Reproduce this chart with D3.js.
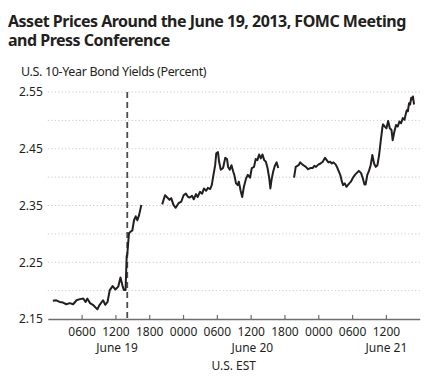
<!DOCTYPE html>
<html>
<head>
  <meta charset="utf-8">
  <title>Asset Prices Around the June 19, 2013, FOMC Meeting</title>
  <script src="https://d3js.org/d3.v7.min.js"></script>
  <style>
    body { margin: 0; background: #fff; }
    text { font-family: "Noto Sans", "Open Sans", sans-serif; fill: #231f20; }
    .title { font-weight: bold; font-size: 16px; letter-spacing: -0.5px; }
    .axis text { font-size: 12px; }
    .axis .domain { stroke: #6d6e71; stroke-width: 1.5; }
    .x.axis .tick line { stroke: #6d6e71; stroke-width: 1.2; }
    .grid line { stroke: #bcbec0; stroke-width: 1; stroke-dasharray: 1 2.5; }
  </style>
</head>
<body>
<script>

// hours since June 19, 2013 00:00 (U.S. EST); null = gap in trading
var hours = [
  0.9, 1.5, 2.1, 2.7, 3.3, 3.9, 4.5, 5.1, 5.7, 6.3, 6.7, 7.0, 7.5, 8.0, 8.8, 9.2, 9.8, 10.2, 10.6,
  11.0, 11.5, 12.0, 12.5, 12.9, 13.3, 13.5, 13.8, 14.0, 14.1, 14.4, 14.7, 15.0, 15.3, 15.6, 15.9, 16.2, 16.6,
  null,
  20.3, 20.8, 21.2, 21.6, 21.9, 22.3, 22.7, 23.2, 23.7, 24.1, 24.5, 24.9, 25.2, 25.6, 25.9, 26.3, 26.6,
  27.0, 27.4, 27.7, 28.1, 28.4, 28.8, 29.1, 29.4, 29.7, 29.9, 30.2, 30.4, 30.7, 31.1, 31.5, 31.8, 32.0,
  32.3, 32.6, 32.9, 33.1, 33.4, 33.7, 33.9, 34.2, 34.5, 34.8, 35.2, 35.5, 35.9, 36.2, 36.6, 36.9, 37.2,
  37.5, 37.8, 38.1, 38.4, 38.7, 39.0, 39.3, 39.5, 39.7, 40.0, 40.3, 40.6, 40.9,
  null,
  43.7, 44.0, 44.5, 44.8, 45.2, 45.5, 45.8, 46.2, 46.6, 47.0, 47.3, 47.6, 48.0, 48.4, 48.8, 49.2, 49.5,
  49.8, 50.1, 50.4, 50.7, 51.1, 51.4, 51.9, 52.2, 52.4, 52.7, 53.0, 53.5, 53.8, 54.1, 54.5, 54.8, 55.2,
  55.6, 55.9, 56.2, 56.4, 56.7, 57.0, 57.3, 57.6, 57.9, 58.2, 58.5, 58.8, 59.1, 59.4, 59.5, 59.8, 60.1,
  60.4, 60.7, 61.0, 61.2, 61.5, 61.8, 62.1, 62.4, 62.7, 63.0, 63.3, 63.4, 63.7, 63.9, 64.1, 64.3, 64.5,
  64.6, 64.8, 65.0
];

var yields = [
  2.182, 2.183, 2.180, 2.179, 2.176, 2.178, 2.176, 2.183, 2.185, 2.186, 2.180, 2.186, 2.178, 2.175, 2.167, 2.175, 2.183, 2.175, 2.180,
  2.201, 2.208, 2.202, 2.207, 2.223, 2.207, 2.201, 2.201, 2.261, 2.263, 2.301, 2.304, 2.306, 2.324, 2.331, 2.324, 2.333, 2.351,
  null,
  2.352, 2.368, 2.364, 2.360, 2.363, 2.351, 2.346, 2.354, 2.357, 2.368, 2.371, 2.365, 2.364, 2.367, 2.361, 2.370, 2.365,
  2.374, 2.371, 2.380, 2.376, 2.381, 2.379, 2.386, 2.404, 2.421, 2.442, 2.444, 2.427, 2.413, 2.416, 2.434, 2.432, 2.418,
  2.413, 2.421, 2.410, 2.404, 2.389, 2.386, 2.392, 2.377, 2.365, 2.383, 2.398, 2.404, 2.399, 2.416, 2.418, 2.432, 2.430,
  2.440, 2.433, 2.440, 2.430, 2.427, 2.416, 2.398, 2.380, 2.395, 2.410, 2.420, 2.426, 2.416,
  null,
  2.399, 2.418, 2.421, 2.426, 2.422, 2.420, 2.418, 2.414, 2.416, 2.416, 2.420, 2.418, 2.422, 2.424, 2.427, 2.434, 2.430,
  2.426, 2.427, 2.424, 2.426, 2.422, 2.416, 2.404, 2.392, 2.386, 2.389, 2.383, 2.389, 2.392, 2.398, 2.404, 2.407, 2.411,
  2.407, 2.398, 2.387, 2.387, 2.404, 2.411, 2.421, 2.439, 2.424, 2.418, 2.421, 2.439, 2.465, 2.489, 2.493, 2.489, 2.486,
  2.499, 2.486, 2.483, 2.465, 2.480, 2.492, 2.489, 2.498, 2.495, 2.504, 2.501, 2.506, 2.518, 2.516, 2.530, 2.528, 2.540,
  2.537, 2.542, 2.528
];

var fomcHour = 14.1;
var hourTicks = [6, 12, 18, 24, 30, 36, 42, 48, 54, 60];
var dayLabels = ["June 19", "June 20", "June 21"];
var dayLabelHours = [12.3, 36.3, 60.1];
var yLabelTicks = [2.15, 2.25, 2.35, 2.45, 2.55];
var yGridTicks = [2.20, 2.25, 2.30, 2.35, 2.40, 2.45, 2.50, 2.55];

var w = 439;
var h = 381;
var plotLeft = 47.8, plotRight = 419.7, plotTop = 92, plotBottom = 319;

var svg = d3.select("body")
  .append("svg")
  .attr("width", w)
  .attr("height", h);

var xScale = d3.scaleLinear()
  .domain([0, 66])
  .range([plotLeft, plotRight]);

var yScale = d3.scaleLinear()
  .domain([2.15, 2.55])
  .range([plotBottom, plotTop]);

// title
svg.append("text")
  .attr("class", "title")
  .attr("x", 8)
  .attr("y", 27)
  .text("Asset Prices Around the June 19, 2013, FOMC Meeting");

svg.append("text")
  .attr("class", "title")
  .attr("x", 8)
  .attr("y", 46)
  .text("and Press Conference");

svg.append("text")
  .attr("x", 21)
  .attr("y", 76)
  .attr("font-size", "12.5px")
  .attr("letter-spacing", "-0.35px")
  .text("U.S. 10-Year Bond Yields (Percent)");

// dotted gridlines
svg.append("g")
  .attr("class", "grid")
  .selectAll("line")
  .data(yGridTicks)
  .enter()
  .append("line")
  .attr("x1", plotLeft)
  .attr("x2", plotRight)
  .attr("y1", function(d) { return yScale(d); })
  .attr("y2", function(d) { return yScale(d); });

var yAxis = d3.axisLeft(yScale)
  .tickValues(yLabelTicks)
  .tickSize(0)
  .tickPadding(5)
  .tickFormat(d3.format(".2f"));

svg.append("g")
  .attr("class", "y axis")
  .attr("transform", "translate(" + plotLeft + ",0)")
  .call(yAxis)
  .call(function(g) { g.select(".domain").remove(); });

var xAxis = d3.axisBottom(xScale)
  .tickValues(hourTicks)
  .tickSizeInner(-4)
  .tickSizeOuter(0)
  .tickPadding(8)
  .tickFormat(function(d) { return d3.format("02d")(d % 24) + "00"; });

svg.append("g")
  .attr("class", "x axis")
  .attr("transform", "translate(0," + plotBottom + ")")
  .call(xAxis);

svg.selectAll(".day")
  .data(dayLabels)
  .enter()
  .append("text")
  .attr("class", "day")
  .attr("x", function(d, i) { return xScale(dayLabelHours[i]); })
  .attr("y", 352)
  .attr("text-anchor", "middle")
  .attr("font-size", "12px")
  .text(function(d) { return d; });

svg.append("text")
  .attr("x", (plotLeft + plotRight) / 2)
  .attr("y", 370)
  .attr("text-anchor", "middle")
  .attr("font-size", "12px")
  .text("U.S. EST");

// FOMC statement release
svg.append("line")
  .attr("x1", xScale(fomcHour))
  .attr("x2", xScale(fomcHour))
  .attr("y1", plotTop)
  .attr("y2", plotBottom)
  .attr("stroke", "#4d4d4f")
  .attr("stroke-width", 1.8)
  .attr("stroke-dasharray", "6 4");

var line = d3.line()
  .defined(function(d, i) { return yields[i] !== null; })
  .x(function(d, i) { return xScale(hours[i]); })
  .y(function(d, i) { return yScale(yields[i]); });

svg.append("path")
  .datum(hours)
  .attr("fill", "none")
  .attr("stroke", "#231f20")
  .attr("stroke-width", 2)
  .attr("stroke-linejoin", "round")
  .attr("d", line);

</script>
</body>
</html>
